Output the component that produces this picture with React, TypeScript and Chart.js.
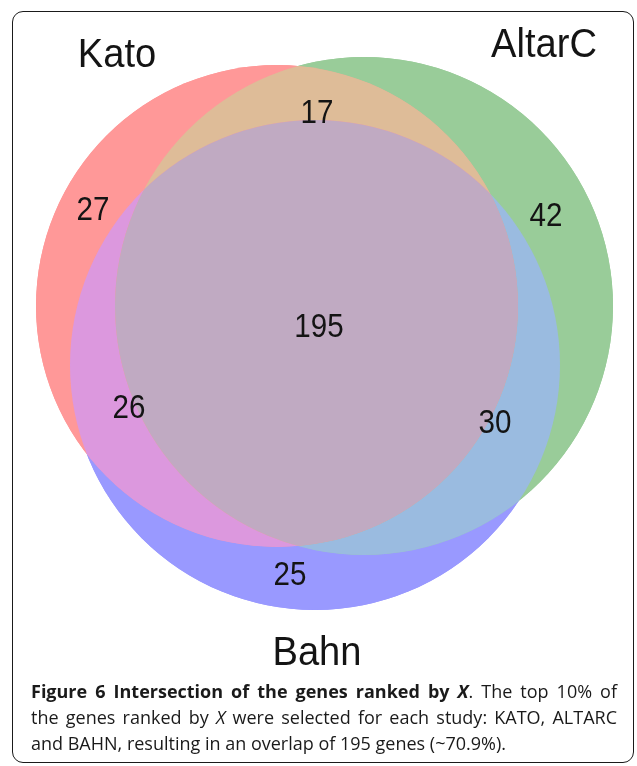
import React, { useEffect, useLayoutEffect, useRef } from 'react';
import { Chart, registerables } from 'chart.js';

Chart.register(...registerables);

// ---- data ----
const setNames = ['Kato', 'AltarC', 'Bahn'];
const setCenterX = [277, 364, 315];
const setCenterY = [306, 306, 365];
const setRadius = [241, 249, 245];
const setLabelX = [117, 544, 317];
const setLabelY = [67, 57, 665];

const regionMembers = [
  [1, 0, 0],
  [0, 1, 0],
  [0, 0, 1],
  [1, 1, 0],
  [1, 0, 1],
  [0, 1, 1],
  [1, 1, 1],
];
const regionCounts = [27, 42, 25, 17, 26, 30, 195];
const regionLabelX = [93, 546, 290, 317, 129, 495, 319];
const regionLabelY = [220, 226, 585, 123, 418, 433, 337];

// ---- styles ----
const setColors = ['#FF9898', '#99CC99', '#9999FF'];
const regionColors = ['#FF9898', '#99CC99', '#9999FF', '#DEBC98', '#DC98DE', '#9ABBE0', '#C0AAC2'];
const W = 637;
const H = 766;

function drawScaledText(ctx: CanvasRenderingContext2D, text: string, x: number, y: number, size: number, sx: number) {
  ctx.save();
  ctx.translate(x, y);
  ctx.scale(sx, 1);
  ctx.font = `${size}px "Liberation Sans", Arial, sans-serif`;
  ctx.textAlign = 'center';
  ctx.textBaseline = 'alphabetic';
  ctx.fillStyle = '#141414';
  ctx.fillText(text, 0, 0);
  ctx.restore();
}

function radiusPx(chart: any, i: number) {
  const xs = chart.scales && chart.scales.x;
  if (!xs) return 0;
  return Math.abs(xs.getPixelForValue(setCenterX[i] + setRadius[i]) - xs.getPixelForValue(setCenterX[i]));
}

const vennPlugin = {
  id: 'vennRegions',
  afterDatasetsDraw(chart: any) {
    const ctx: CanvasRenderingContext2D = chart.ctx;
    const area = chart.chartArea;
    const circles = [0, 1, 2].map((i) => {
      const el: any = chart.getDatasetMeta(i).data[0];
      return { x: el.x, y: el.y, r: radiusPx(chart, i) };
    });
    regionMembers.forEach((mem, ri) => {
      ctx.save();
      mem.forEach((m, ci) => {
        const c = circles[ci];
        ctx.beginPath();
        if (m) {
          ctx.arc(c.x, c.y, c.r, 0, Math.PI * 2);
          ctx.clip();
        } else {
          ctx.rect(area.left - 10, area.top - 10, area.right - area.left + 20, area.bottom - area.top + 20);
          ctx.arc(c.x, c.y, c.r, 0, Math.PI * 2);
          ctx.clip('evenodd');
        }
      });
      ctx.fillStyle = regionColors[ri];
      ctx.fillRect(area.left, area.top, area.right - area.left, area.bottom - area.top);
      ctx.restore();
    });
    const countMeta = chart.getDatasetMeta(3);
    countMeta.data.forEach((el: any, i: number) => {
      drawScaledText(ctx, String(regionCounts[i]), el.x, el.y, 34, 0.87);
    });
    const nameMeta = chart.getDatasetMeta(4);
    nameMeta.data.forEach((el: any, i: number) => {
      drawScaledText(ctx, setNames[i], el.x, el.y, 41, 0.93);
    });
  },
};

const captionLines = [
  (
    <>
      <b>
        Figure 6 Intersection of the genes ranked by <i>X</i>
      </b>
      . The top 10% of
    </>
  ),
  (
    <>
      the genes ranked by <i>X</i> were selected for each study: KATO, ALTARC
    </>
  ),
  <>and BAHN, resulting in an overlap of 195 genes (~70.9%).</>,
];

export default function App() {
  const canvasRef = useRef<HTMLCanvasElement | null>(null);
  const lineRefs = useRef<(HTMLSpanElement | null)[]>([]);

  useEffect(() => {
    const canvas = canvasRef.current;
    if (!canvas) return;
    const chart = new Chart(canvas, {
      type: 'scatter',
      data: {
        datasets: [
          ...setNames.map((name, i) => ({
            label: name,
            data: [{ x: setCenterX[i], y: setCenterY[i] }],
            pointBackgroundColor: setColors[i],
            backgroundColor: setColors[i],
            pointBorderWidth: 0,
            pointRadius: (c: any) => radiusPx(c.chart, i),
            pointHoverRadius: (c: any) => radiusPx(c.chart, i),
          })),
          {
            label: 'counts',
            data: regionCounts.map((_, i) => ({ x: regionLabelX[i], y: regionLabelY[i] })),
            pointRadius: 0,
            pointHoverRadius: 0,
          },
          {
            label: 'names',
            data: setNames.map((_, i) => ({ x: setLabelX[i], y: setLabelY[i] })),
            pointRadius: 0,
            pointHoverRadius: 0,
          },
        ] as any,
      },
      options: {
        animation: false,
        responsive: false,
        devicePixelRatio: 1,
        events: [],
        layout: { padding: 0 },
        plugins: { legend: { display: false }, tooltip: { enabled: false } },
        scales: {
          x: { type: 'linear', min: 0, max: W, display: false },
          y: { type: 'linear', min: 0, max: H, reverse: true, display: false },
        },
      },
      plugins: [vennPlugin],
    });
    return () => chart.destroy();
  }, []);

  useLayoutEffect(() => {
    const target = 586;
    const fit = () => {
      lineRefs.current.forEach((span, i) => {
        if (!span || i > 1) return;
        span.style.wordSpacing = '0px';
        const w = span.getBoundingClientRect().width;
        const spaces = (span.textContent || '').split(' ').length - 1;
        if (spaces > 0) span.style.wordSpacing = `${(target - w) / spaces}px`;
      });
    };
    fit();
    if ((document as any).fonts && (document as any).fonts.ready) {
      (document as any).fonts.ready.then(fit);
    }
  }, []);

  return (
    <div style={{ position: 'absolute', left: 0, top: 0, width: W, height: H, background: '#fff', overflow: 'hidden' }}>
      <canvas ref={canvasRef} width={W} height={H} style={{ position: 'absolute', left: 0, top: 0, width: W, height: H }} />
      <div
        style={{
          position: 'absolute',
          left: 12,
          top: 11,
          width: 622,
          height: 752,
          boxSizing: 'border-box',
          border: '1.5px solid #1a1a1a',
          borderRadius: 11,
          pointerEvents: 'none',
        }}
      />
      <div
        style={{
          position: 'absolute',
          left: 31,
          top: 678,
          fontFamily: '"Open Sans", "Noto Sans", sans-serif',
          fontSize: 18,
          lineHeight: '26px',
          color: '#1a1a1a',
        }}
      >
        {captionLines.map((line, i) => (
          <div key={i} style={{ whiteSpace: 'nowrap' }}>
            <span ref={(el) => { lineRefs.current[i] = el; }}>{line}</span>
          </div>
        ))}
      </div>
    </div>
  );
}
